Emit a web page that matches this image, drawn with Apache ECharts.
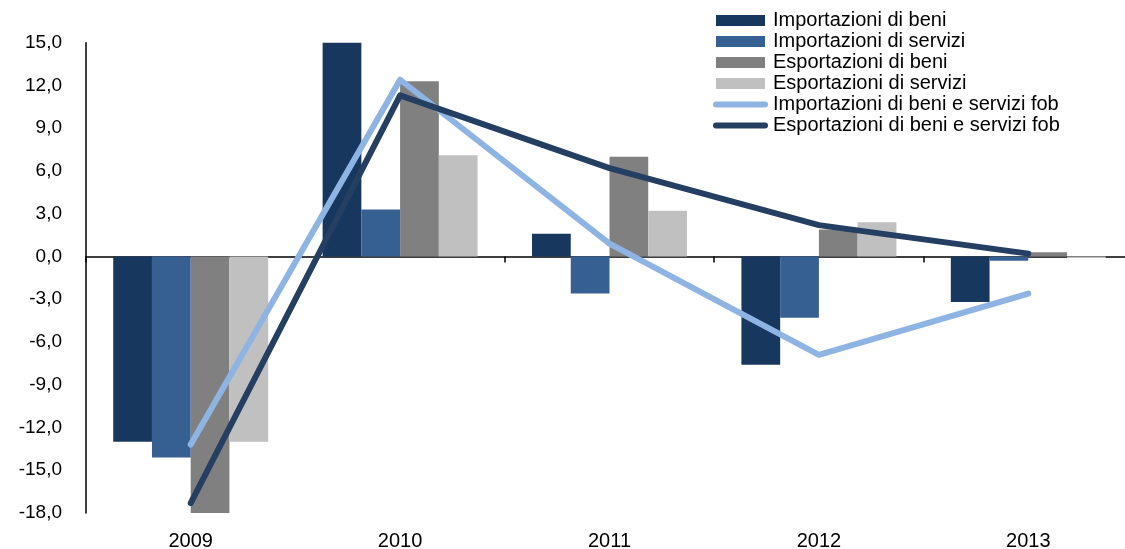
<!DOCTYPE html>
<html>
<head>
<meta charset="utf-8">
<script src="https://cdn.jsdelivr.net/npm/echarts@6/dist/echarts.min.js"></script>
<style>
html,body{margin:0;padding:0;background:#fff;}
#chart{width:1125px;height:549px;}
</style>
</head>
<body>
<div id="chart"></div>
<script>
const years = ['2009', '2010', '2011', '2012', '2013'];
const impBeni = [-13.0, 15.0, 1.6, -7.6, -3.2];
const impServizi = [-14.1, 3.3, -2.6, -4.3, -0.3];
const espBeni = [-18.0, 12.3, 7.0, 1.9, 0.3];
const espServizi = [-13.0, 7.1, 3.2, 2.4, -0.1];
const impFob = [-13.2, 12.4, 0.9, -6.9, -2.6];
const espFob = [-17.3, 11.3, 6.2, 2.2, 0.2];
const names = [
  'Importazioni di beni',
  'Importazioni di servizi',
  'Esportazioni di beni',
  'Esportazioni di servizi',
  'Importazioni di beni e servizi fob',
  'Esportazioni di beni e servizi fob'
];
const colors = ['#17375E', '#366092', '#808080', '#C0C0C0', '#8DB4E2', '#243F62'];
const FONT = '"Liberation Sans", Arial, sans-serif';

const chart = echarts.init(document.getElementById('chart'), null, {renderer: 'canvas'});
const barData = [impBeni, impServizi, espBeni, espServizi];
const lineData = [impFob, espFob];

const series = [];
barData.forEach((d, i) => {
  series.push({
    name: names[i], type: 'bar', data: d, xAxisIndex: 0,
    barGap: '0%', barCategoryGap: '26%',
    itemStyle: {color: colors[i]}, z: 2
  });
});
lineData.forEach((d, i) => {
  series.push({
    name: names[4 + i], type: 'line', data: d, xAxisIndex: 0,
    symbol: 'none', showSymbol: false,
    lineStyle: {color: colors[4 + i], width: 6, cap: 'round', join: 'round'},
    itemStyle: {color: colors[4 + i]},
    z: 3 + i
  });
});

chart.setOption({
  animation: false,
  backgroundColor: '#ffffff',
  textStyle: {fontFamily: FONT},
  grid: {left: 86, width: 1047, top: 42.7, bottom: 36, containLabel: false, outerBoundsMode: 'none'},
  legend: {
    orient: 'vertical', left: 713, top: 10, padding: 0,
    itemWidth: 49, itemHeight: 11, itemGap: 0,
    textStyle: {fontFamily: FONT, fontSize: 20, color: '#000', lineHeight: 21, padding: [0, 0, 0, 3]},
    data: [
      {name: names[0], icon: 'rect'},
      {name: names[1], icon: 'rect'},
      {name: names[2], icon: 'rect'},
      {name: names[3], icon: 'rect'},
      {name: names[4], lineStyle: {width: 6, cap: 'round'}, itemStyle: {opacity: 0}},
      {name: names[5], lineStyle: {width: 6, cap: 'round'}, itemStyle: {opacity: 0}}
    ]
  },
  xAxis: [
    {
      type: 'category', data: years, position: 'bottom',
      axisLine: {show: true, onZero: true, lineStyle: {color: '#000', width: 1.5}},
      axisTick: {show: true, length: 6, interval: 0, alignWithLabel: false, lineStyle: {color: '#000', width: 1.5}},
      axisLabel: {show: false},
      splitLine: {show: false}
    },
    {
      type: 'category', data: years, position: 'bottom',
      axisLine: {show: false, onZero: false},
      axisTick: {show: false},
      axisLabel: {show: true, fontFamily: FONT, fontSize: 20, color: '#000', margin: 18},
      splitLine: {show: false}
    }
  ],
  yAxis: {
    type: 'value', min: -18, max: 15, interval: 3,
    axisLine: {show: true, onZero: false, lineStyle: {color: '#000', width: 1.5}},
    axisTick: {show: false},
    splitLine: {show: false},
    axisLabel: {
      fontFamily: FONT, fontSize: 19, color: '#000', margin: 24,
      formatter: v => v.toFixed(1).replace('.', ',')
    }
  },
  series: series
});
</script>
</body>
</html>
